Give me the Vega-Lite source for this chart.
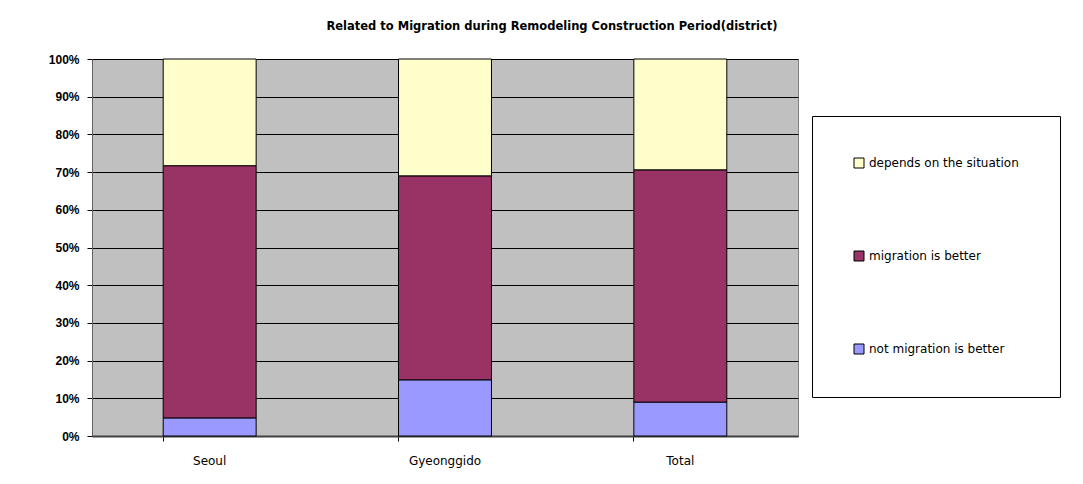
{
  "$schema": "https://vega.github.io/schema/vega-lite/v6.json",
  "autosize": {"type": "none"},
  "padding": {"left": 92, "top": 59, "right": 285, "bottom": 48},
  "width": 706,
  "height": 377,
  "background": "white",
  "title": {
    "text": "Related to Migration during Remodeling Construction Period(district)",
    "font": "DejaVu Sans",
    "fontSize": 11.5,
    "fontWeight": "bold",
    "color": "black",
    "anchor": "middle",
    "dx": 107,
    "offset": 21
  },
  "data": {
    "values": [
      {"district": "Seoul", "response": "not migration is better", "order": 1, "value": 0.048},
      {"district": "Seoul", "response": "migration is better", "order": 2, "value": 0.669},
      {"district": "Seoul", "response": "depends on the situation", "order": 3, "value": 0.283},
      {"district": "Gyeonggido", "response": "not migration is better", "order": 1, "value": 0.149},
      {"district": "Gyeonggido", "response": "migration is better", "order": 2, "value": 0.541},
      {"district": "Gyeonggido", "response": "depends on the situation", "order": 3, "value": 0.31},
      {"district": "Total", "response": "not migration is better", "order": 1, "value": 0.09},
      {"district": "Total", "response": "migration is better", "order": 2, "value": 0.616},
      {"district": "Total", "response": "depends on the situation", "order": 3, "value": 0.294}
    ]
  },
  "mark": {"type": "bar", "stroke": "black", "strokeWidth": 1},
  "encoding": {
    "x": {
      "field": "district",
      "type": "nominal",
      "sort": ["Seoul", "Gyeonggido", "Total"],
      "scale": {"paddingInner": 0.605, "paddingOuter": 0.3025},
      "axis": {
        "title": null,
        "labelAngle": 0,
        "labelFont": "DejaVu Sans",
        "labelFontSize": 12,
        "labelColor": "black",
        "labelPadding": 14,
        "bandPosition": 0,
        "tickSize": 5,
        "tickColor": "black",
        "domainColor": "#404040",
        "domainWidth": 2
      }
    },
    "y": {
      "field": "value",
      "type": "quantitative",
      "stack": "zero",
      "scale": {"domain": [0, 1]},
      "axis": {
        "title": null,
        "format": ".0%",
        "values": [0, 0.1, 0.2, 0.3, 0.4, 0.5, 0.6, 0.7, 0.8, 0.9, 1],
        "labelOverlap": false,
        "labelFont": "Liberation Sans",
        "labelFontSize": 12,
        "labelFontWeight": "bold",
        "labelColor": "black",
        "labelPadding": 8,
        "grid": true,
        "gridColor": "black",
        "gridWidth": 1,
        "tickColor": "black",
        "tickSize": 5,
        "domainColor": "#606060"
      }
    },
    "color": {
      "field": "response",
      "type": "nominal",
      "scale": {
        "domain": ["depends on the situation", "migration is better", "not migration is better"],
        "range": ["#FFFFCC", "#993366", "#9999FF"]
      },
      "legend": {
        "title": null,
        "orient": "none",
        "legendX": 720,
        "legendY": 57,
        "direction": "vertical",
        "symbolType": "square",
        "symbolSize": 100,
        "symbolStrokeColor": "black",
        "symbolStrokeWidth": 1,
        "labelFont": "DejaVu Sans",
        "labelFontSize": 12,
        "labelColor": "black",
        "labelOffset": 4,
        "rowPadding": 79,
        "padding": 41,
        "strokeColor": "black",
        "fillColor": "white"
      }
    },
    "order": {"field": "order", "type": "quantitative"}
  },
  "config": {
    "view": {"fill": "#C0C0C0", "stroke": "#808080", "strokeWidth": 1}
  }
}
